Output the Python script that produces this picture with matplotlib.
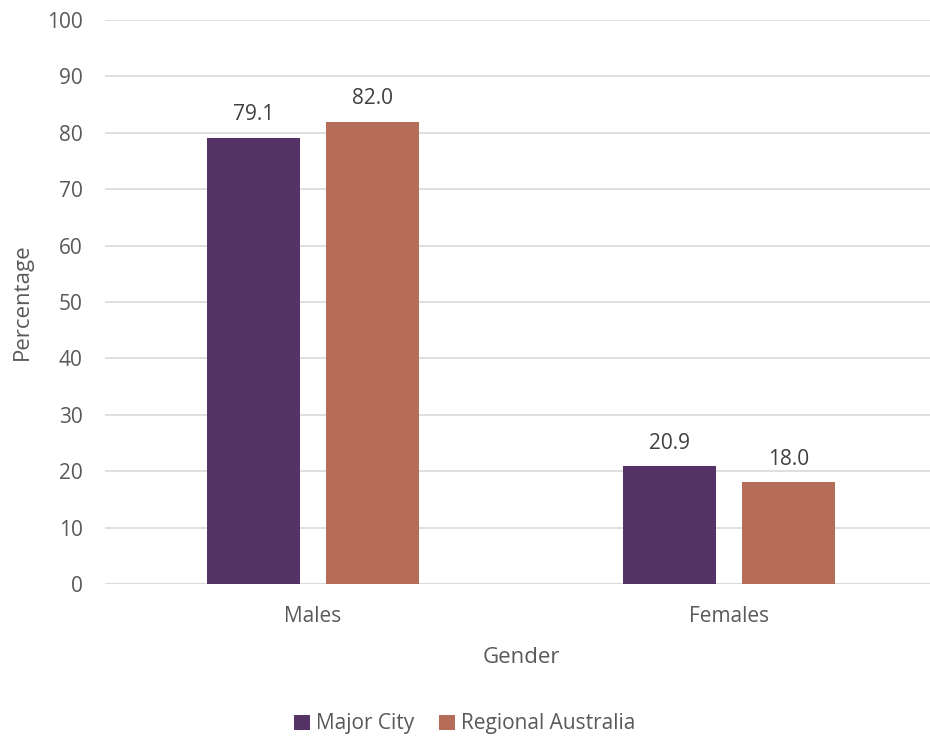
import matplotlib
matplotlib.use("Agg")
import matplotlib.pyplot as plt
import numpy as np

categories = ["Males", "Females"]
major_city = [79.1, 20.9]
regional = [82.0, 18.0]
series_names = ["Major City", "Regional Australia"]
colors = ["#553366", "#B56D5A"]
yticks = list(range(0, 101, 10))

plt.rcParams['font.family'] = ['Open Sans', 'DejaVu Sans']
txt = "#595959"
fs = 15

fig = plt.figure(figsize=(9.30, 7.37), dpi=100)
ax = fig.add_axes([105/930, (737-584)/737, 832/930, 564/737])

x = np.arange(len(categories))
w = 0.224
off = 0.143
b1 = ax.bar(x - off, major_city, w, color=colors[0], label=series_names[0], zorder=3)
b2 = ax.bar(x + off, regional, w, color=colors[1], label=series_names[1], zorder=3)
for bars, vals in ((b1, major_city), (b2, regional)):
    for r, v in zip(bars, vals):
        ax.annotate(f"{v:.1f}", (r.get_x() + r.get_width()/2, v), xytext=(0, 9),
                    textcoords="offset points", ha="center", va="bottom",
                    fontsize=fs, color="#404040")

ax.set_xlim(-0.5, 1.5)
ax.set_ylim(0, 100)
ax.set_yticks(yticks)
ax.set_xticks(x)
ax.set_xticklabels(categories)
ax.yaxis.grid(True, color="#D9D9D9", linewidth=1.2, zorder=0)
ax.set_axisbelow(True)
for s in ax.spines.values():
    s.set_visible(False)
ax.axhline(0, color="#D9D9D9", linewidth=1.2, zorder=2)
ax.tick_params(axis='both', length=0, labelsize=fs, labelcolor=txt)
ax.tick_params(axis='y', pad=16)
ax.tick_params(axis='x', pad=16)
ax.set_xlabel("Gender", fontsize=fs+1, color=txt, labelpad=14)
fig.text(22/930, 1 - 302/737, "Percentage", rotation=90, ha="center", va="center",
         fontsize=fs+1, color=txt)

fig.legend(loc="center", bbox_to_anchor=(0.5, (737-724)/737), ncol=2, frameon=False,
           fontsize=fs, labelcolor=txt, handlelength=0.75, handleheight=0.75,
           handletextpad=0.3, columnspacing=1.2)

fig.savefig("out.png", dpi=100)
